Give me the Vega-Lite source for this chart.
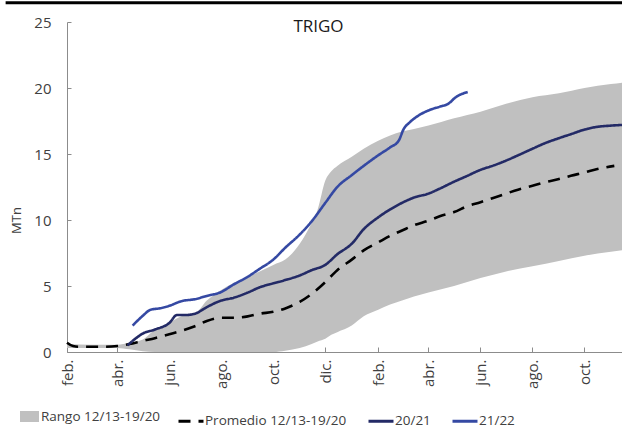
{
  "$schema": "https://vega.github.io/schema/vega-lite/v6.json",
  "width": 555,
  "height": 330,
  "autosize": {"type": "none"},
  "padding": {"left": 67, "top": 22, "right": 0, "bottom": 82},
  "background": "white",
  "config": {
    "font": "Open Sans",
    "view": {"stroke": null},
    "axis": {"labelFont": "Open Sans", "titleFont": "Open Sans", "labelColor": "#404040", "titleColor": "#404040", "domainColor": "#8c8c8c", "tickColor": "#8c8c8c", "grid": false}
  },
  "title": {"text": "TRIGO", "anchor": "middle", "frame": "group", "dx": -26, "offset": -14, "dy": 34, "baseline": "alphabetic", "fontSize": 17, "fontWeight": "normal", "font": "Open Sans", "color": "#1a1a1a"},
  "datasets": {
    "band": [
      {"date": "2021-02-01", "low": 0.3, "high": 0.6},
      {"date": "2021-03-01", "low": 0.3, "high": 0.55},
      {"date": "2021-04-01", "low": 0.3, "high": 0.55},
      {"date": "2021-04-15", "low": 0.2, "high": 0.7},
      {"date": "2021-05-01", "low": 0.05, "high": 0.95},
      {"date": "2021-05-15", "low": 0, "high": 1.7},
      {"date": "2021-06-01", "low": 0, "high": 2.2},
      {"date": "2021-06-15", "low": 0, "high": 2.7},
      {"date": "2021-07-01", "low": 0, "high": 2.9},
      {"date": "2021-07-15", "low": 0, "high": 3.9},
      {"date": "2021-08-01", "low": 0, "high": 4.7},
      {"date": "2021-08-15", "low": 0, "high": 5.2},
      {"date": "2021-09-01", "low": 0, "high": 5.7},
      {"date": "2021-09-15", "low": 0, "high": 6.1},
      {"date": "2021-10-01", "low": 0, "high": 6.6},
      {"date": "2021-10-15", "low": 0.1, "high": 7.0},
      {"date": "2021-11-01", "low": 0.3, "high": 8.2},
      {"date": "2021-11-15", "low": 0.6, "high": 9.8},
      {"date": "2021-11-22", "low": 0.8, "high": 10.8},
      {"date": "2021-12-01", "low": 1.0, "high": 13.0},
      {"date": "2021-12-08", "low": 1.3, "high": 13.7},
      {"date": "2021-12-15", "low": 1.5, "high": 14.1},
      {"date": "2022-01-01", "low": 2.0, "high": 14.8},
      {"date": "2022-01-15", "low": 2.7, "high": 15.4},
      {"date": "2022-02-01", "low": 3.2, "high": 16.0},
      {"date": "2022-02-15", "low": 3.6, "high": 16.4},
      {"date": "2022-03-01", "low": 3.9, "high": 16.7},
      {"date": "2022-03-15", "low": 4.2, "high": 16.9},
      {"date": "2022-04-01", "low": 4.5, "high": 17.15},
      {"date": "2022-05-01", "low": 5.0, "high": 17.7},
      {"date": "2022-06-01", "low": 5.6, "high": 18.2},
      {"date": "2022-07-01", "low": 6.1, "high": 18.8},
      {"date": "2022-08-01", "low": 6.5, "high": 19.3},
      {"date": "2022-09-01", "low": 6.9, "high": 19.6},
      {"date": "2022-10-01", "low": 7.3, "high": 20.0},
      {"date": "2022-11-01", "low": 7.6, "high": 20.3},
      {"date": "2022-11-14", "low": 7.7, "high": 20.4}
    ],
    "lines": [
      {"date": "2021-02-01", "serie": "Promedio 12/13-19/20", "value": 0.7},
      {"date": "2021-02-08", "serie": "Promedio 12/13-19/20", "value": 0.45},
      {"date": "2021-02-15", "serie": "Promedio 12/13-19/20", "value": 0.4},
      {"date": "2021-03-01", "serie": "Promedio 12/13-19/20", "value": 0.4},
      {"date": "2021-03-15", "serie": "Promedio 12/13-19/20", "value": 0.4},
      {"date": "2021-04-01", "serie": "Promedio 12/13-19/20", "value": 0.45},
      {"date": "2021-04-15", "serie": "Promedio 12/13-19/20", "value": 0.6},
      {"date": "2021-05-01", "serie": "Promedio 12/13-19/20", "value": 0.85},
      {"date": "2021-05-15", "serie": "Promedio 12/13-19/20", "value": 1.05},
      {"date": "2021-06-01", "serie": "Promedio 12/13-19/20", "value": 1.35},
      {"date": "2021-06-15", "serie": "Promedio 12/13-19/20", "value": 1.6},
      {"date": "2021-07-01", "serie": "Promedio 12/13-19/20", "value": 1.95},
      {"date": "2021-07-15", "serie": "Promedio 12/13-19/20", "value": 2.35},
      {"date": "2021-08-01", "serie": "Promedio 12/13-19/20", "value": 2.6},
      {"date": "2021-08-15", "serie": "Promedio 12/13-19/20", "value": 2.6},
      {"date": "2021-09-01", "serie": "Promedio 12/13-19/20", "value": 2.7},
      {"date": "2021-09-15", "serie": "Promedio 12/13-19/20", "value": 2.9},
      {"date": "2021-10-01", "serie": "Promedio 12/13-19/20", "value": 3.05},
      {"date": "2021-10-15", "serie": "Promedio 12/13-19/20", "value": 3.3},
      {"date": "2021-11-01", "serie": "Promedio 12/13-19/20", "value": 3.8},
      {"date": "2021-11-15", "serie": "Promedio 12/13-19/20", "value": 4.4},
      {"date": "2021-12-01", "serie": "Promedio 12/13-19/20", "value": 5.3},
      {"date": "2021-12-15", "serie": "Promedio 12/13-19/20", "value": 6.2},
      {"date": "2022-01-01", "serie": "Promedio 12/13-19/20", "value": 7.0},
      {"date": "2022-01-15", "serie": "Promedio 12/13-19/20", "value": 7.7},
      {"date": "2022-02-01", "serie": "Promedio 12/13-19/20", "value": 8.3},
      {"date": "2022-02-15", "serie": "Promedio 12/13-19/20", "value": 8.8},
      {"date": "2022-03-01", "serie": "Promedio 12/13-19/20", "value": 9.2},
      {"date": "2022-03-15", "serie": "Promedio 12/13-19/20", "value": 9.6},
      {"date": "2022-04-01", "serie": "Promedio 12/13-19/20", "value": 9.95},
      {"date": "2022-04-15", "serie": "Promedio 12/13-19/20", "value": 10.3},
      {"date": "2022-05-01", "serie": "Promedio 12/13-19/20", "value": 10.6},
      {"date": "2022-05-15", "serie": "Promedio 12/13-19/20", "value": 11.0},
      {"date": "2022-06-01", "serie": "Promedio 12/13-19/20", "value": 11.35},
      {"date": "2022-06-15", "serie": "Promedio 12/13-19/20", "value": 11.65},
      {"date": "2022-07-01", "serie": "Promedio 12/13-19/20", "value": 12.0},
      {"date": "2022-07-15", "serie": "Promedio 12/13-19/20", "value": 12.3},
      {"date": "2022-08-01", "serie": "Promedio 12/13-19/20", "value": 12.6},
      {"date": "2022-08-15", "serie": "Promedio 12/13-19/20", "value": 12.85},
      {"date": "2022-09-01", "serie": "Promedio 12/13-19/20", "value": 13.1},
      {"date": "2022-09-15", "serie": "Promedio 12/13-19/20", "value": 13.35},
      {"date": "2022-10-01", "serie": "Promedio 12/13-19/20", "value": 13.6},
      {"date": "2022-10-15", "serie": "Promedio 12/13-19/20", "value": 13.85},
      {"date": "2022-11-05", "serie": "Promedio 12/13-19/20", "value": 14.1},
      {"date": "2021-04-13", "serie": "20/21", "value": 0.5},
      {"date": "2021-04-22", "serie": "20/21", "value": 1.0},
      {"date": "2021-05-01", "serie": "20/21", "value": 1.4},
      {"date": "2021-05-15", "serie": "20/21", "value": 1.7},
      {"date": "2021-06-01", "serie": "20/21", "value": 2.2},
      {"date": "2021-06-10", "serie": "20/21", "value": 2.8},
      {"date": "2021-06-20", "serie": "20/21", "value": 2.8},
      {"date": "2021-07-01", "serie": "20/21", "value": 2.9},
      {"date": "2021-07-15", "serie": "20/21", "value": 3.4},
      {"date": "2021-08-01", "serie": "20/21", "value": 3.9},
      {"date": "2021-08-15", "serie": "20/21", "value": 4.1},
      {"date": "2021-09-01", "serie": "20/21", "value": 4.5},
      {"date": "2021-09-15", "serie": "20/21", "value": 4.9},
      {"date": "2021-10-01", "serie": "20/21", "value": 5.2},
      {"date": "2021-10-15", "serie": "20/21", "value": 5.45},
      {"date": "2021-11-01", "serie": "20/21", "value": 5.8},
      {"date": "2021-11-15", "serie": "20/21", "value": 6.2},
      {"date": "2021-12-01", "serie": "20/21", "value": 6.6},
      {"date": "2021-12-15", "serie": "20/21", "value": 7.4},
      {"date": "2022-01-01", "serie": "20/21", "value": 8.2},
      {"date": "2022-01-15", "serie": "20/21", "value": 9.3},
      {"date": "2022-02-01", "serie": "20/21", "value": 10.2},
      {"date": "2022-02-15", "serie": "20/21", "value": 10.8},
      {"date": "2022-03-01", "serie": "20/21", "value": 11.3},
      {"date": "2022-03-15", "serie": "20/21", "value": 11.7},
      {"date": "2022-04-01", "serie": "20/21", "value": 12.0},
      {"date": "2022-04-15", "serie": "20/21", "value": 12.4},
      {"date": "2022-05-01", "serie": "20/21", "value": 12.9},
      {"date": "2022-05-15", "serie": "20/21", "value": 13.3},
      {"date": "2022-06-01", "serie": "20/21", "value": 13.8},
      {"date": "2022-06-15", "serie": "20/21", "value": 14.1},
      {"date": "2022-07-01", "serie": "20/21", "value": 14.5},
      {"date": "2022-07-15", "serie": "20/21", "value": 14.9},
      {"date": "2022-08-01", "serie": "20/21", "value": 15.4},
      {"date": "2022-08-15", "serie": "20/21", "value": 15.8},
      {"date": "2022-09-01", "serie": "20/21", "value": 16.2},
      {"date": "2022-09-15", "serie": "20/21", "value": 16.5},
      {"date": "2022-10-01", "serie": "20/21", "value": 16.85},
      {"date": "2022-10-15", "serie": "20/21", "value": 17.05},
      {"date": "2022-11-01", "serie": "20/21", "value": 17.15},
      {"date": "2022-11-14", "serie": "20/21", "value": 17.2},
      {"date": "2021-04-19", "serie": "21/22", "value": 2.0},
      {"date": "2021-05-01", "serie": "21/22", "value": 2.75},
      {"date": "2021-05-10", "serie": "21/22", "value": 3.2},
      {"date": "2021-05-20", "serie": "21/22", "value": 3.3},
      {"date": "2021-06-01", "serie": "21/22", "value": 3.5},
      {"date": "2021-06-15", "serie": "21/22", "value": 3.85},
      {"date": "2021-07-01", "serie": "21/22", "value": 4.0},
      {"date": "2021-07-15", "serie": "21/22", "value": 4.25},
      {"date": "2021-08-01", "serie": "21/22", "value": 4.55},
      {"date": "2021-08-15", "serie": "21/22", "value": 5.1},
      {"date": "2021-09-01", "serie": "21/22", "value": 5.7},
      {"date": "2021-09-15", "serie": "21/22", "value": 6.3},
      {"date": "2021-10-01", "serie": "21/22", "value": 7.0},
      {"date": "2021-10-15", "serie": "21/22", "value": 7.9},
      {"date": "2021-11-01", "serie": "21/22", "value": 8.9},
      {"date": "2021-11-15", "serie": "21/22", "value": 9.9},
      {"date": "2021-12-01", "serie": "21/22", "value": 11.3},
      {"date": "2021-12-15", "serie": "21/22", "value": 12.5},
      {"date": "2022-01-01", "serie": "21/22", "value": 13.4},
      {"date": "2022-01-15", "serie": "21/22", "value": 14.1},
      {"date": "2022-02-01", "serie": "21/22", "value": 14.9},
      {"date": "2022-02-15", "serie": "21/22", "value": 15.5},
      {"date": "2022-02-25", "serie": "21/22", "value": 16.0},
      {"date": "2022-03-03", "serie": "21/22", "value": 16.9},
      {"date": "2022-03-10", "serie": "21/22", "value": 17.4},
      {"date": "2022-03-20", "serie": "21/22", "value": 17.9},
      {"date": "2022-04-01", "serie": "21/22", "value": 18.3},
      {"date": "2022-04-15", "serie": "21/22", "value": 18.6},
      {"date": "2022-04-24", "serie": "21/22", "value": 18.8},
      {"date": "2022-05-03", "serie": "21/22", "value": 19.3},
      {"date": "2022-05-17", "serie": "21/22", "value": 19.7}
    ],
    "topline": [
      {"start": "2020-11-21", "end": "2022-11-14", "level": 26.45}
    ]
  },
  "layer": [
    {
      "data": {"name": "band"},
      "mark": {"type": "area", "interpolate": "monotone"},
      "encoding": {
        "x": {
          "field": "date", "type": "temporal",
          "scale": {"type": "utc", "domain": [{"year": 2021, "month": 2, "date": 1, "utc": true}, {"year": 2022, "month": 11, "date": 14, "utc": true}]},
          "axis": {
            "title": null,
            "values": [
              {"year": 2021, "month": 2, "date": 1, "utc": true},
              {"year": 2021, "month": 4, "date": 1, "utc": true},
              {"year": 2021, "month": 6, "date": 1, "utc": true},
              {"year": 2021, "month": 8, "date": 1, "utc": true},
              {"year": 2021, "month": 10, "date": 1, "utc": true},
              {"year": 2021, "month": 12, "date": 1, "utc": true},
              {"year": 2022, "month": 2, "date": 1, "utc": true},
              {"year": 2022, "month": 4, "date": 1, "utc": true},
              {"year": 2022, "month": 6, "date": 1, "utc": true},
              {"year": 2022, "month": 8, "date": 1, "utc": true},
              {"year": 2022, "month": 10, "date": 1, "utc": true}
            ],
            "labelExpr": "['ene.','feb.','mar.','abr.','may.','jun.','jul.','ago.','sept.','oct.','nov.','dic.'][utcmonth(datum.value)]",
            "labelAngle": -90,
            "labelAlign": "right",
            "labelBaseline": "middle",
            "labelFontSize": 15,
            "labelPadding": 12,
            "tickSize": -5,
            "labelOverlap": false,
            "labelFlush": false
          }
        },
        "y": {
          "field": "high", "type": "quantitative",
          "scale": {"domain": [0, 25], "nice": false},
          "axis": {"title": "MTn", "values": [0, 5, 10, 15, 20, 25], "labelFontSize": 15, "labelPadding": 20, "tickSize": -4, "titleFontSize": 13, "titleFontWeight": "normal", "titleAngle": -90, "titleX": -51, "titleY": 198, "titleAlign": "center", "titleBaseline": "middle"}
        },
        "y2": {"field": "low"},
        "fill": {
          "datum": "Rango 12/13-19/20",
          "type": "nominal",
          "scale": {"range": ["#c0c0c0"]},
          "legend": {"title": null, "orient": "none", "legendX": -47, "legendY": 385, "symbolType": "M-1,-0.58H1V0.58H-1Z", "symbolSize": 361, "symbolStrokeWidth": 0, "symbolOpacity": 1, "labelFontSize": 13.5, "labelColor": "#404040", "labelFont": "Open Sans", "labelOffset": 2, "padding": 0}
        }
      }
    },
    {
      "data": {"name": "lines"},
      "mark": {"type": "line", "strokeWidth": 2.6, "interpolate": "monotone"},
      "encoding": {
        "x": {"field": "date", "type": "temporal"},
        "y": {"field": "value", "type": "quantitative"},
        "stroke": {
          "field": "serie", "type": "nominal",
          "scale": {"domain": ["Promedio 12/13-19/20", "20/21", "21/22"], "range": ["#000000", "#232a66", "#3549a3"]},
          "legend": {"title": null, "orient": "none", "direction": "horizontal", "legendX": 110, "legendY": 385, "symbolType": "stroke", "symbolSize": 625, "symbolStrokeWidth": 3, "labelFontSize": 13.5, "labelColor": "#404040", "labelFont": "Open Sans", "labelOffset": 0, "columnPadding": 15, "padding": 0}
        },
        "strokeDash": {
          "field": "serie", "type": "nominal",
          "scale": {"domain": ["Promedio 12/13-19/20", "20/21", "21/22"], "range": [[12, 8], [1, 0], [1, 0]]},
          "legend": {"title": null, "orient": "none", "direction": "horizontal", "legendX": 110, "legendY": 385, "symbolType": "stroke", "symbolSize": 625, "symbolStrokeWidth": 3, "labelFontSize": 13.5, "labelColor": "#404040", "labelFont": "Open Sans", "labelOffset": 0, "columnPadding": 15, "padding": 0}
        }
      }
    },
    {
      "data": {"name": "topline"},
      "mark": {"type": "rule", "color": "#000000", "strokeWidth": 3, "clip": false},
      "encoding": {
        "x": {"field": "start", "type": "temporal"},
        "x2": {"field": "end"},
        "y": {"field": "level", "type": "quantitative"}
      }
    }
  ]
}
